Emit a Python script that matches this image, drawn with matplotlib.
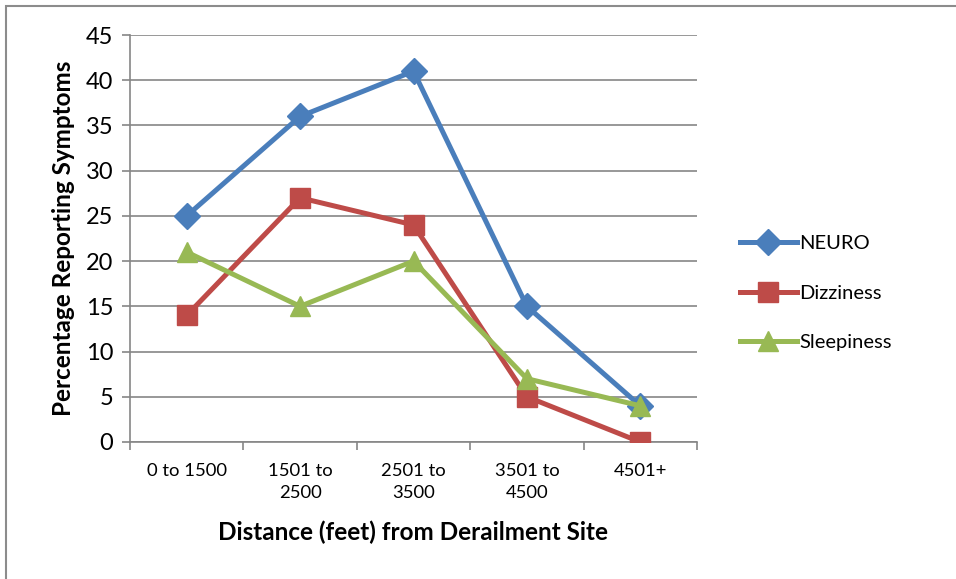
import matplotlib.pyplot as plt
from matplotlib.lines import Line2D

plt.rcParams['font.family'] = ['Lato', 'DejaVu Sans']

categories = ['0 to 1500', '1501 to\n2500', '2501 to\n3500', '3501 to\n4500', '4501+']
neuro = [25, 36, 41, 15, 4]
dizziness = [14, 27, 24, 5, 0]
sleepiness = [21, 15, 20, 7, 4]

fig = plt.figure(figsize=(9.56, 5.79), dpi=100)
W, H = 956, 579
ax = fig.add_axes([130 / W, 1 - 442 / H, (697 - 130) / W, (442 - 35) / H])

# chart area border
fig.add_artist(plt.Rectangle((6 / W, -0.05), 1.2, 1 - 6 / H + 0.05, transform=fig.transFigure,
                             fill=False, edgecolor='#8c8c8c', lw=1.5))

styles = [('NEURO', neuro, '#4A7EBB', 'D', 13),
          ('Dizziness', dizziness, '#BE4B48', 's', 14),
          ('Sleepiness', sleepiness, '#98B954', '^', 14)]

x = list(range(len(categories)))
handles = []
for name, vals, col, mk, ms in styles:
    ax.plot(x, vals, color=col, lw=3.6, marker=mk, ms=ms, label=name, zorder=3)
    handles.append(Line2D([], [], color=col, lw=3.6, marker=mk, ms=ms))

ax.set_xlim(-0.5, 4.5)
ax.set_ylim(0, 45)
ax.set_yticks(range(0, 46, 5))
ax.yaxis.grid(True, color='#868686', lw=1.2)
ax.set_axisbelow(True)
for s in ['top', 'right']:
    ax.spines[s].set_visible(False)
for s in ['left', 'bottom']:
    ax.spines[s].set_color('#868686')
    ax.spines[s].set_linewidth(1.2)

ax.set_xticks(x)
ax.set_xticklabels(categories, fontsize=13.3, linespacing=1.45)
ax.set_xticks([i + 0.5 for i in range(-1, 5)], minor=True)
ax.tick_params(axis='x', which='major', length=0, pad=15)
ax.tick_params(axis='x', which='minor', length=6, color='#868686', width=1.2)
ax.tick_params(axis='y', labelsize=17, length=6, color='#868686', width=1.2, pad=6)

ax.set_xlabel('Distance (feet) from Derailment Site', fontsize=17.5, fontweight='bold', labelpad=14)
ax.set_ylabel('Percentage Reporting Symptoms', fontsize=17.5, fontweight='bold', labelpad=8)

fig.legend(handles, ['NEURO', 'Dizziness', 'Sleepiness'], loc='center left',
           bbox_to_anchor=(722 / W, 1 - 293 / H), frameon=False, fontsize=14.5,
           handlelength=2.8, handletextpad=0.15, labelspacing=1.6)

fig.savefig('out.png', dpi=100)
